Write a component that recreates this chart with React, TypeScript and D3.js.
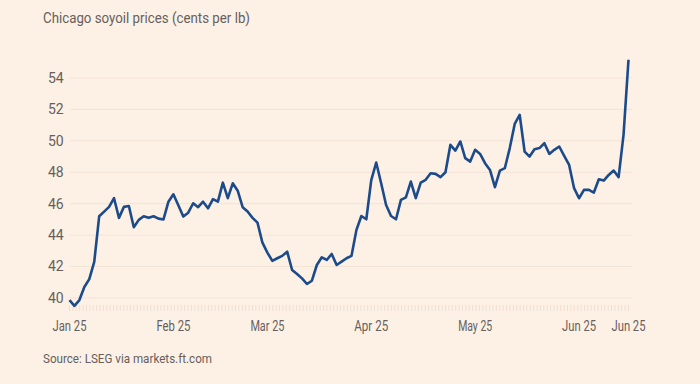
import React, { useRef, useEffect } from "react";
import * as d3 from "d3";

// Chicago soyoil, cents per lb, one value per trading day
const janPrices = [39.87, 39.5, 39.87, 40.7, 41.2, 42.3, 45.2, 45.5, 45.8, 46.35, 45.1, 45.8, 45.85, 44.5, 44.97, 45.2, 45.1, 45.2, 45.05, 45.0, 46.13];
const febPrices = [46.6, 45.9, 45.18, 45.43, 46.03, 45.78, 46.13, 45.71, 46.29, 46.13, 47.34, 46.35, 47.3, 46.83, 45.78, 45.5, 45.1, 44.8, 43.52];
const marPrices = [42.89, 42.36, 42.53, 42.68, 42.95, 41.78, 41.53, 41.25, 40.89, 41.1, 42.1, 42.59, 42.42, 42.8, 42.1, 42.31, 42.53, 42.68, 44.33, 45.22, 45.01];
const aprPrices = [47.5, 48.62, 47.3, 45.92, 45.22, 45.01, 46.24, 46.41, 47.41, 46.35, 47.34, 47.52, 47.94, 47.9, 47.69, 48.0, 49.75, 49.38, 49.96, 48.9, 48.68];
const mayPrices = [49.43, 49.17, 48.58, 48.15, 47.05, 48.11, 48.26, 49.54, 51.08, 51.66, 49.32, 49.0, 49.47, 49.54, 49.85, 49.17, 49.43, 49.64, 49.04, 48.47, 46.99];
const junPrices = [46.35, 46.88, 46.88, 46.71, 47.56, 47.47, 47.83, 48.11, 47.69, 50.4, 55.16];

const firstDay = "2025-01-02";
const lastDay = "2025-06-16";
const holidays = ["2025-01-20", "2025-02-17", "2025-04-18", "2025-05-26"];
const yTicks = [40, 42, 44, 46, 48, 50, 52, 54];

const title = "Chicago soyoil prices (cents per lb)";
const source = "Source: LSEG via markets.ft.com";

const App = () => {
  const svgRef = useRef(null);

  useEffect(() => {
    const width = 700;
    const height = 384;
    const font = "Roboto, sans-serif";
    const textColor = "#66605c";

    const parse = d3.utcParse("%Y-%m-%d");
    const key = d3.utcFormat("%Y-%m-%d");
    const start = parse(firstDay);
    const end = parse(lastDay);
    const dates = d3.utcDay.range(start, d3.utcDay.offset(end, 1))
      .filter(d => d.getUTCDay() !== 0 && d.getUTCDay() !== 6 && !holidays.includes(key(d)));
    const prices = [...janPrices, ...febPrices, ...marPrices, ...aprPrices, ...mayPrices, ...junPrices];
    const data = dates.map((d, i) => ({ date: d, value: prices[i] }));

    const svg = d3.select(svgRef.current)
      .attr("width", width)
      .attr("height", height);
    svg.selectAll("*").remove();

    svg.append("rect")
      .attr("width", width)
      .attr("height", height)
      .attr("fill", "#fdf1e6");

    const x = d3.scaleLinear().domain([0, data.length - 1]).range([69.5, 628.5]);
    const xCal = d3.scaleUtc().domain([start, end]).range([69.5, 628.5]);
    const y = d3.scaleLinear().domain([40, 54]).range([298, 78]);

    // gridlines + y labels
    svg.append("g")
      .selectAll("line")
      .data(yTicks)
      .enter()
      .append("line")
      .attr("x1", 70)
      .attr("x2", 632)
      .attr("y1", d => y(d))
      .attr("y2", d => y(d))
      .attr("stroke", "#f3e3d5")
      .attr("stroke-width", 1);

    svg.append("g")
      .selectAll("text")
      .data(yTicks)
      .enter()
      .append("text")
      .attr("x", 48)
      .attr("y", d => y(d))
      .attr("dy", "0.35em")
      .attr("font-family", font)
      .attr("font-size", 14)
      .attr("fill", textColor)
      .text(d => d);

    // daily minor ticks along the bottom
    svg.append("g")
      .selectAll("line")
      .data(d3.utcDay.range(start, d3.utcDay.offset(end, 1)))
      .enter()
      .append("line")
      .attr("x1", d => xCal(d))
      .attr("x2", d => xCal(d))
      .attr("y1", 305)
      .attr("y2", 311)
      .attr("stroke", "#f1dfd0")
      .attr("stroke-width", 1);

    // month labels at first trading day of each month, plus the last day
    const labelIdx = data
      .map((d, i) => i)
      .filter(i => i === 0 || data[i].date.getUTCMonth() !== data[i - 1].date.getUTCMonth());
    labelIdx.push(data.length - 1);
    const fmt = d3.utcFormat("%b %y");

    svg.append("g")
      .selectAll("text")
      .data(labelIdx)
      .enter()
      .append("text")
      .attr("x", i => x(i))
      .attr("y", 331)
      .attr("text-anchor", "middle")
      .attr("font-family", font)
      .attr("font-size", 14)
      .attr("textLength", 34)
      .attr("lengthAdjust", "spacingAndGlyphs")
      .attr("fill", textColor)
      .text(i => fmt(data[i].date));

    const line = d3.line()
      .x((d, i) => x(i))
      .y(d => y(d.value));

    svg.append("path")
      .datum(data)
      .attr("fill", "none")
      .attr("stroke", "#1d4b8a")
      .attr("stroke-width", 2.6)
      .attr("stroke-linejoin", "round")
      .attr("d", line);

    // narrow-ish sans to stand in for the FT house font
    svg.append("text")
      .attr("x", 43)
      .attr("y", 23)
      .attr("font-family", font)
      .attr("font-size", 15.5)
      .attr("textLength", 207)
      .attr("lengthAdjust", "spacingAndGlyphs")
      .attr("fill", textColor)
      .text(title);

    svg.append("text")
      .attr("x", 43)
      .attr("y", 363)
      .attr("font-family", font)
      .attr("font-size", 13.5)
      .attr("textLength", 169)
      .attr("lengthAdjust", "spacingAndGlyphs")
      .attr("fill", textColor)
      .text(source);
  }, []);

  return (
    <div style={{ position: "absolute", left: 0, top: 0 }}>
      <svg ref={svgRef}></svg>
    </div>
  );
};

export default App;
